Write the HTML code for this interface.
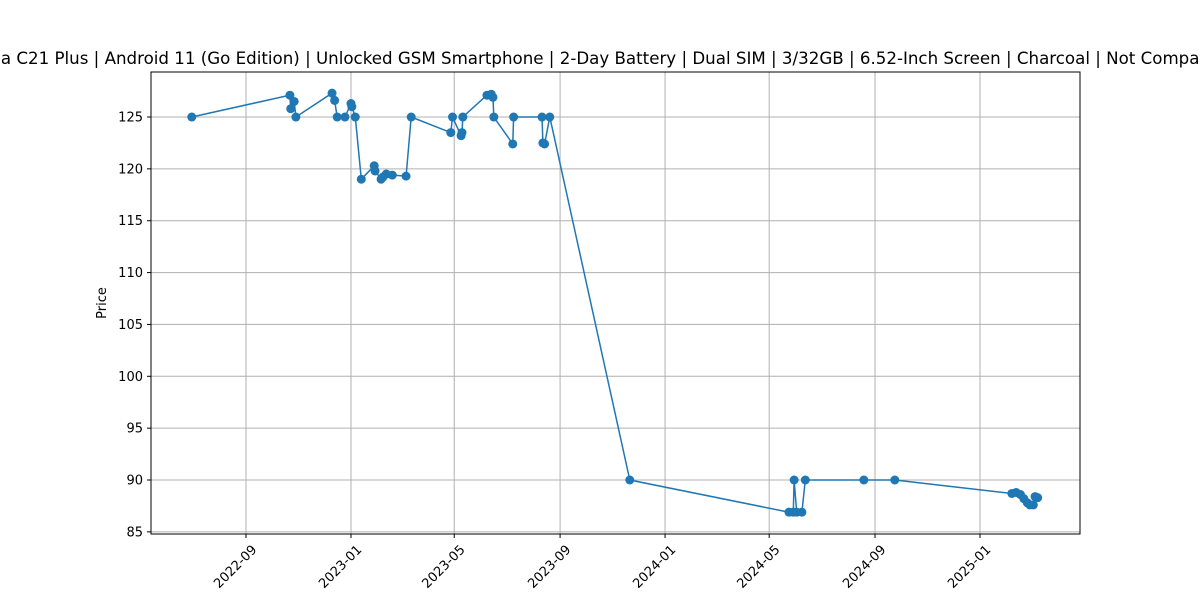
<!DOCTYPE html>
<html><head><meta charset="utf-8"><style>
body{margin:0;background:#fff;overflow:hidden;}
svg{display:block;font-family:"DejaVu Sans","Liberation Sans",sans-serif;}
</style></head><body>
<svg id="c" width="1200" height="600" viewBox="0 0 1200 600">
<text x="600" y="64" text-anchor="middle" font-size="16.67">Nokia C21 Plus | Android 11 (Go Edition) | Unlocked GSM Smartphone | 2-Day Battery | Dual SIM | 3/32GB | 6.52-Inch Screen | Charcoal | Not Compatible</text>
<g id="grid"></g><g id="ticks"></g><g id="series"></g>
<rect x="151" y="72" width="929" height="462" fill="none" stroke="#000" stroke-width="1"/>
<text transform="translate(106,303) rotate(-90)" text-anchor="middle" font-size="13">Price</text>
</svg>
<script>
const dates=["2022-06-30","2022-10-22","2022-10-23","2022-10-27","2022-10-29","2022-12-10","2022-12-13","2022-12-16","2022-12-25","2023-01-01","2023-01-02","2023-01-06","2023-01-13","2023-01-28","2023-01-29","2023-02-05","2023-02-07","2023-02-11","2023-02-18","2023-03-06","2023-03-12","2023-04-27","2023-04-29","2023-05-09","2023-05-10","2023-05-11","2023-06-08","2023-06-13","2023-06-15","2023-06-16","2023-07-08","2023-07-09","2023-08-11","2023-08-12","2023-08-14","2023-08-20","2023-11-21","2024-05-24","2024-05-29","2024-05-30","2024-06-02","2024-06-08","2024-06-12","2024-08-19","2024-09-24","2025-02-07","2025-02-12","2025-02-17","2025-02-21","2025-02-25","2025-02-28","2025-03-04","2025-03-06","2025-03-09"];
const prices=[125,127.1,125.8,126.5,125,127.3,126.6,125,125,126.3,126,125,119,120.3,119.8,119,119.2,119.5,119.4,119.3,125,123.5,125,123.2,123.5,125,127.1,127.2,126.9,125,122.4,125,125,122.5,122.4,125,90,86.9,86.9,90,86.9,86.9,90,90,90,88.7,88.8,88.6,88.2,87.8,87.6,87.6,88.4,88.3];
const xTicks=["2022-09","2023-01","2023-05","2023-09","2024-01","2024-05","2024-09","2025-01"];
const yTicks=[85,90,95,100,105,110,115,120,125];
const NS="http://www.w3.org/2000/svg";
const t0=Date.UTC(2022,8,1),t1=Date.UTC(2025,0,1);
function d(s){const p=s.split("-");return Date.UTC(+p[0],+p[1]-1,p[2]?+p[2]:1);}
function xs(s){return 246+(d(s)-t0)/(t1-t0)*734;}
function ys(v){return 480-(v-90)*10.371;}
function mk(tag,a,parent){const e=document.createElementNS(NS,tag);for(const k in a)e.setAttribute(k,a[k]);document.getElementById(parent).appendChild(e);return e;}
xTicks.forEach(t=>{const x=xs(t);
 let g=mk("line",{x1:x,x2:x,y1:72,y2:534,stroke:"#b0b0b0","stroke-width":1},"grid");
 
 
 mk("line",{x1:x,x2:x,y1:534,y2:538,stroke:"#000"},"ticks");
 let l=mk("text",{transform:`translate(${x+5},${544}) rotate(-45)`,"text-anchor":"end","font-size":13,dy:"0.7em"},"ticks");
 l.textContent=t;
 
 
});
yTicks.forEach(v=>{const y=ys(v);
 let g=mk("line",{x1:151,x2:1080,y1:y,y2:y,stroke:"#b0b0b0","stroke-width":1},"grid");
 
 
 mk("line",{x1:147,x2:151,y1:y,y2:y,stroke:"#000"},"ticks");
 let l=mk("text",{x:143,y:y+4.5,"text-anchor":"end","font-size":13},"ticks");
 l.textContent=v;
 
 
});
const pts=dates.map((s,i)=>xs(s).toFixed(1)+","+ys(prices[i]).toFixed(1)).join(" ");
let pl=mk("polyline",{points:pts,fill:"none",stroke:"#1f77b4","stroke-width":1.5},"series");


dates.forEach((s,i)=>{let c=mk("circle",{cx:xs(s),cy:ys(prices[i]),r:4.5,fill:"#1f77b4"},"series");
 
 });
</script>
</body></html>
